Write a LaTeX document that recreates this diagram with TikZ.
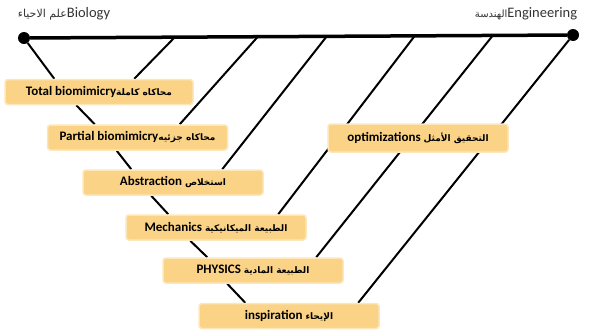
\documentclass[tikz,border=0pt]{standalone}
\usepackage{fontspec}
\setmainfont{Carlito}
\newfontfamily\arabicfont[Script=Arabic]{DejaVu Sans}
\TeXXeTstate=1
\usetikzlibrary{backgrounds}
\definecolor{boxfill}{RGB}{251,211,134}
\definecolor{boxglow}{RGB}{253,230,186}
\newcommand{\artext}[2][9]{{\arabicfont\fontsize{#1}{11}\selectfont\beginR #2\endR}}
\begin{document}
\begin{tikzpicture}[x=1pt,y=-1pt,
  box/.style={fill=boxfill,draw=boxglow,line width=1.5pt,rounded corners=3pt,minimum width=180pt,minimum height=25pt,inner sep=0pt,font=\fontsize{13}{15}\selectfont\bfseries},
  dot/.style={shape=circle,fill=black,minimum size=12pt,inner sep=0pt},
  title/.style={anchor=base,text=black!80,font=\fontsize{14.5}{16}\selectfont},
  link/.style={line width=2pt}]
\useasboundingbox (0,0) rectangle (596,335);
\node [title,name=biology] at (64,17){\artext[11]{علم الاحياء}Biology};
\node [title,name=engineering] at (526,17){\artext[10]{الهندسة}Engineering};
\node [dot,name=bio] at (24,38){};
\node [dot,name=eng] at (573,35){};
\coordinate (t1) at (175,37);
\coordinate (t2) at (258,36.5);
\coordinate (t3) at (327,36);
\coordinate (t4) at (415,35.5);
\coordinate (t5) at (493,35.2);
\node [box,name=total,minimum width=188pt] at (99,92){Total biomimicry\artext{محاكاه كاملة}};
\node [box,name=partial] at (137.5,137.5){Partial biomimicry\artext{محاكاه جزئيه}};
\node [box,name=abstraction] at (173,182.5){Abstraction \artext{استخلاص}};
\node [box,name=mechanics] at (216,227.5){Mechanics \artext{الطبيعة الميكانيكية}};
\node [box,name=physics] at (253,270.5){PHYSICS \artext{الطبيعة المادية}};
\node [box,name=inspiration] at (289,316){inspiration \artext{الإيحاء}};
\node [box,name=optim,minimum height=28pt] at (418,138){optimizations \artext{التحقيق الأمثل}};
\begin{scope}[on background layer]
\draw[line width=3.5pt] (bio)--(eng);
\draw[link] (bio)--([xshift=50pt]total.north west);
\draw[link] ([xshift=72pt]total.south west)--([xshift=48pt]partial.north west);
\draw[link] ([xshift=70pt]partial.south west)--([xshift=49pt]abstraction.north west);
\draw[link] ([xshift=69pt]abstraction.south west)--([xshift=43pt]mechanics.north west);
\draw[link] ([xshift=65pt]mechanics.south west)--([xshift=45pt]physics.north west);
\draw[link] ([xshift=65pt]physics.south west)--([xshift=47pt]inspiration.north west);
\draw[link] (t1)--([xshift=130pt]total.north west);
\draw[link] (t2)--([xshift=133pt]partial.north west);
\draw[link] (t3)--([xshift=140pt]abstraction.north west);
\draw[link] (t4)--([xshift=153pt]mechanics.north west);
\draw[link] (t5)--([xshift=154pt]physics.north west);
\draw[link] (eng)--([xshift=160pt]inspiration.north west);
\end{scope}
\end{tikzpicture}
\end{document}
